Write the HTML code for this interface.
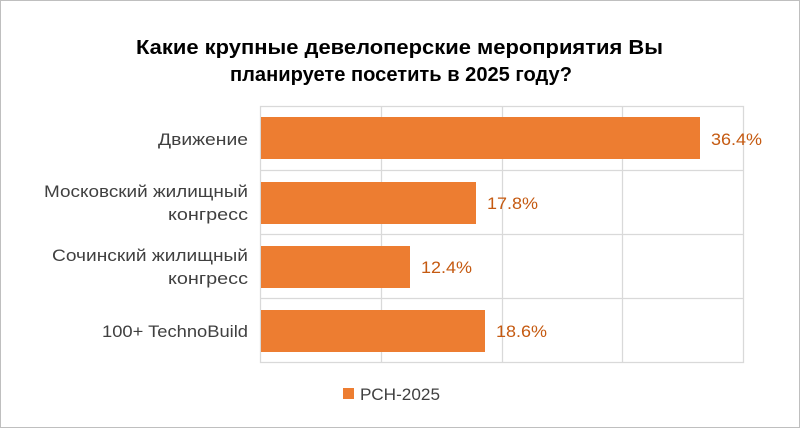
<!DOCTYPE html>
<html><head><meta charset="utf-8"><style>
body{margin:0;background:#fff}
svg{display:block;font-family:"Liberation Sans",Carlito,sans-serif}
</style></head><body>
<svg width="800" height="428" viewBox="0 0 800 428">
<rect x="0.5" y="0.5" width="799" height="427" fill="#fff" stroke="#bfbfbf"/>
<text x="136" y="54" font-size="20" font-weight="bold" fill="#000" textLength="527" lengthAdjust="spacingAndGlyphs">Какие крупные девелоперские мероприятия Вы</text>
<text x="230" y="81" font-size="20" font-weight="bold" fill="#000" textLength="342" lengthAdjust="spacingAndGlyphs">планируете посетить в 2025 году?</text>
<g stroke="#d9d9d9" stroke-width="1.3" fill="none">
<rect x="260.5" y="106.5" width="483" height="256"/>
<line x1="381.5" y1="106" x2="381.5" y2="363"/>
<line x1="502.5" y1="106" x2="502.5" y2="363"/>
<line x1="622.5" y1="106" x2="622.5" y2="363"/>
<line x1="260" y1="170.5" x2="744" y2="170.5"/>
<line x1="260" y1="234.5" x2="744" y2="234.5"/>
<line x1="260" y1="298.5" x2="744" y2="298.5"/>
</g>
<g fill="#ed7d31">
<rect x="261" y="117" width="439" height="42"/>
<rect x="261" y="182" width="215" height="42"/>
<rect x="261" y="246" width="149" height="42"/>
<rect x="261" y="310" width="224" height="42"/>
</g>
<g font-size="17" fill="#c55a11">
<text x="711" y="145" textLength="51" lengthAdjust="spacingAndGlyphs">36.4%</text>
<text x="487" y="209" textLength="51" lengthAdjust="spacingAndGlyphs">17.8%</text>
<text x="421" y="273" textLength="51" lengthAdjust="spacingAndGlyphs">12.4%</text>
<text x="496" y="337" textLength="51" lengthAdjust="spacingAndGlyphs">18.6%</text>
</g>
<g font-size="17" fill="#404040">
<text x="158" y="145" textLength="90" lengthAdjust="spacingAndGlyphs">Движение</text>
<text x="44" y="197" textLength="204" lengthAdjust="spacingAndGlyphs">Московский жилищный</text>
<text x="168" y="220" textLength="80" lengthAdjust="spacingAndGlyphs">конгресс</text>
<text x="52" y="261" textLength="196" lengthAdjust="spacingAndGlyphs">Сочинский жилищный</text>
<text x="168" y="284" textLength="80" lengthAdjust="spacingAndGlyphs">конгресс</text>
<text x="102" y="337" textLength="146" lengthAdjust="spacingAndGlyphs">100+ TechnoBuild</text>
</g>
<rect x="343" y="388" width="11" height="11" fill="#ed7d31"/>
<text x="360" y="400" font-size="17" fill="#404040" textLength="80" lengthAdjust="spacingAndGlyphs">РСН-2025</text>
</svg>
</body></html>
